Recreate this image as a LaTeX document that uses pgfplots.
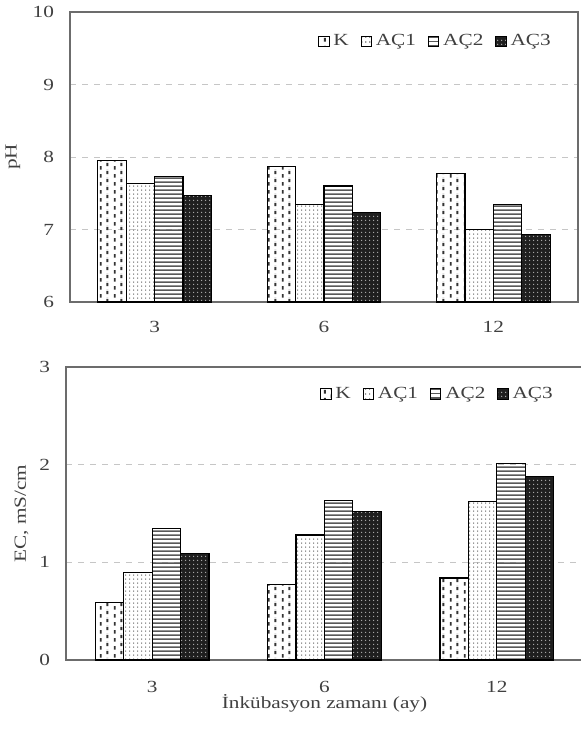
\documentclass[border=0pt]{standalone}
\usepackage{fontspec}
\setmainfont{Liberation Serif}[FakeStretch=1.25]
\usepackage{pgfplots}
\usepackage{pgfplotstable}
\pgfplotsset{compat=1.18}
\usetikzlibrary{patterns}

\pgfdeclarepatternformonly{kdash}{\pgfqpoint{0pt}{0pt}}{\pgfqpoint{7pt}{4pt}}{\pgfqpoint{7pt}{4pt}}{%
  \pgfpathrectangle{\pgfqpoint{1pt}{0.2pt}}{\pgfqpoint{1pt}{2pt}}%
  \pgfpathrectangle{\pgfqpoint{4.5pt}{2.1pt}}{\pgfqpoint{1pt}{1.9pt}}%
  \pgfpathrectangle{\pgfqpoint{4.5pt}{0pt}}{\pgfqpoint{1pt}{0.1pt}}%
  \pgfusepath{fill}}
\pgfdeclarepatternformonly{finedots}{\pgfqpoint{0pt}{0pt}}{\pgfqpoint{2pt}{2.2pt}}{\pgfqpoint{2pt}{2.2pt}}{%
  \pgfpathrectangle{\pgfqpoint{0.7pt}{0.6pt}}{\pgfqpoint{0.6pt}{0.9pt}}%
  \pgfusepath{fill}}
\pgfdeclarepatternformonly{hlinesp}{\pgfqpoint{0pt}{0pt}}{\pgfqpoint{40pt}{2.2pt}}{\pgfqpoint{40pt}{2.2pt}}{%
  \pgfpathrectangle{\pgfqpoint{-1pt}{0.6pt}}{\pgfqpoint{42pt}{0.9pt}}%
  \pgfusepath{fill}}
\pgfdeclarepatternformonly{wdots}{\pgfqpoint{0pt}{0pt}}{\pgfqpoint{2pt}{2pt}}{\pgfqpoint{2pt}{2pt}}{%
  \pgfpathcircle{\pgfqpoint{1pt}{1pt}}{0.42pt}%
  \pgfusepath{fill}}

\pgfplotstableread{
x K AC1 AC2 AC3
0 7.95 7.63 7.73 7.47
1 7.87 7.34 7.60 7.23
2 7.77 7.00 7.34 6.93
}\phdata
\pgfplotstableread{
x K AC1 AC2 AC3
0 0.59 0.90 1.35 1.09
1 0.77 1.28 1.63 1.52
2 0.84 1.62 2.01 1.88
}\ecdata

\pgfplotsset{
  mybars/.style={
    scale only axis,
    ybar,
    bar width=14.2pt,
    xmin=-0.5, xmax=2.5,
    xtick={0,1,2},
    xticklabels={3,6,12},
    axis line style={draw=gray!85!black, line width=0.6pt},
    major tick length=0pt,
    ymajorgrids,
    major grid style={dashed, gray!45, line width=0.5pt},
    /pgf/number format/assume math mode=true,
    yticklabel style={xshift=-5pt, text=black!75},
    xticklabel style={anchor=base, text=black!75},
    legend columns=4,
    legend cell align=left,
    legend style={draw=none, fill=none, inner sep=0pt, text=black!75,
      /tikz/every even column/.append style={column sep=4pt}},
    legend image code/.code={\draw[#1, draw=black, line width=0.4pt] (0pt,-2.6pt) rectangle (5.2pt,2.6pt);},
    every axis plot/.append style={draw=black, line width=0.6pt},
  },
  sK/.style={pattern=kdash, pattern color=black!80},
  sA1/.style={pattern=finedots, pattern color=gray!80},
  sA2/.style={pattern=hlinesp, pattern color=gray!70!black},
  sA3/.style={fill=black!88, postaction={pattern=wdots, pattern color=gray!60}},
}

\begin{document}
\fontsize{8.5pt}{10pt}\selectfont
\begin{tikzpicture}
\useasboundingbox (0,0) rectangle (290.5pt,-365pt);
\begin{axis}[mybars,
  at={(35pt,-151pt)}, anchor=south west,
  width=254pt, height=145pt,
  ymin=6, ymax=10, ytick={6,7,8,9,10},
  xticklabel style={yshift=-15.3pt},
  ylabel={pH},
  every axis y label/.style={at={(axis description cs:0,0.5)}, xshift=-26.7pt, rotate=90, anchor=base, text=black!75},
  legend style={at={(axis description cs:0.955,0.898)}, anchor=east},
]
\addplot[sK, bar shift=-21.3pt] table[x=x, y=K] {\phdata};
\addplot[sA1, bar shift=-7.1pt] table[x=x, y=AC1] {\phdata};
\addplot[sA2, bar shift=7.1pt] table[x=x, y=AC2] {\phdata};
\addplot[sA3, bar shift=21.3pt] table[x=x, y=AC3] {\phdata};
\legend{K, AÇ1, AÇ2, AÇ3}
\end{axis}
\begin{axis}[mybars,
  at={(33pt,-330pt)}, anchor=south west,
  width=258.5pt, height=146.5pt,
  ymin=0, ymax=3, ytick={0,1,2,3},
  xticklabel style={yshift=-16pt},
  ylabel={EC, mS/cm},
  every axis y label/.style={at={(axis description cs:0,0.5)}, xshift=-20pt, rotate=90, anchor=base, text=black!75},
  xlabel={İnkübasyon zamanı (ay)},
  every axis x label/.style={at={(axis description cs:0.5,0)}, anchor=base, yshift=-24.3pt, text=black!75},
  legend style={at={(axis description cs:0.95,0.908)}, anchor=east},
]
\addplot[sK, bar shift=-21.3pt] table[x=x, y=K] {\ecdata};
\addplot[sA1, bar shift=-7.1pt] table[x=x, y=AC1] {\ecdata};
\addplot[sA2, bar shift=7.1pt] table[x=x, y=AC2] {\ecdata};
\addplot[sA3, bar shift=21.3pt] table[x=x, y=AC3] {\ecdata};
\legend{K, AÇ1, AÇ2, AÇ3}
\end{axis}
\end{tikzpicture}
\end{document}
